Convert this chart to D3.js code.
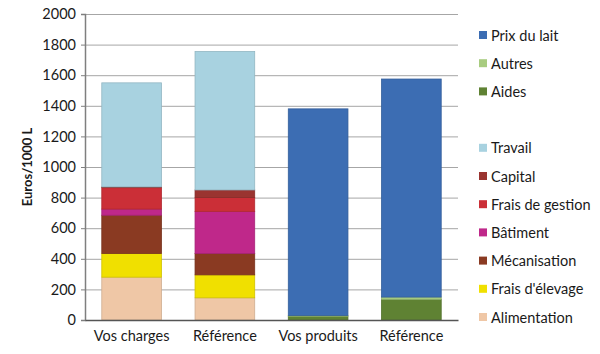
<!DOCTYPE html>
<html>
<head>
<meta charset="utf-8">
<script src="https://cdn.jsdelivr.net/npm/d3@7"></script>
<style>
  body { margin: 0; background: #fff; }
  text { font-family: Lato, "Open Sans", sans-serif; fill: #1a1a1a; }
</style>
</head>
<body>
<script>
// categories along the x axis
let categories = ["Vos charges", "Référence", "Vos produits", "Référence "];
let yTicks = [0, 200, 400, 600, 800, 1000, 1200, 1400, 1600, 1800, 2000];

// series values (Euros/1000 L), bottom to top of each stack
let alimentation   = [280, 145, 0, 0];
let fraisElevage   = [155, 150, 0, 0];
let mecanisation   = [250, 140, 0, 0];
let batiment       = [40, 275, 0, 0];
let fraisGestion   = [140, 90, 0, 0];
let capital        = [5, 50, 0, 0];
let travail        = [680, 905, 0, 0];
let aides          = [0, 0, 25, 135];
let autres         = [0, 0, 5, 15];
let prixLait       = [0, 0, 1350, 1425];

let seriesNames = ["Alimentation", "Frais d'élevage", "Mécanisation", "Bâtiment",
  "Frais de gestion", "Capital", "Travail", "Aides", "Autres", "Prix du lait"];
let seriesValues = [alimentation, fraisElevage, mecanisation, batiment,
  fraisGestion, capital, travail, aides, autres, prixLait];
let seriesColors = ["#efc7a6", "#f0e000", "#8a3a22", "#bf288a",
  "#cb2f37", "#9a3430", "#a8d2e0", "#5f8233", "#a8cc80", "#3c6db3"];
// legend order, null = empty slot
let legendOrder = ["Prix du lait", "Autres", "Aides", null, "Travail", "Capital",
  "Frais de gestion", "Bâtiment", "Mécanisation", "Frais d'élevage", "Alimentation"];

let margins = { left: 85, top: 14, right: 142, bottom: 34 };
let totalW = 600, totalH = 354;
let width = totalW - margins.left - margins.right;
let height = totalH - margins.top - margins.bottom;

let svg = d3.select("body").append("svg")
  .attr("width", totalW)
  .attr("height", totalH);

let container = svg.append("g")
  .attr("transform", `translate(${margins.left}, ${margins.top})`);

let xScale = d3.scaleBand()
  .domain(categories)
  .range([0, width])
  .paddingInner(0.36)
  .paddingOuter(0.18);
let yScale = d3.scaleLinear()
  .domain([0, 2000])
  .range([height, 0]);
let colorScale = d3.scaleOrdinal()
  .domain(seriesNames)
  .range(seriesColors);

// gridlines
container.append("g")
  .selectAll("line")
  .data(yTicks.slice(1))
  .join("line")
  .attr("x1", 0)
  .attr("x2", width)
  .attr("y1", d => yScale(d) + 0.5)
  .attr("y2", d => yScale(d) + 0.5)
  .attr("stroke", "#a6a6a6")
  .attr("stroke-width", 1);

// build rows for the stack generator
let data = categories.map((c, i) => {
  let row = { cat: c };
  seriesNames.forEach((s, k) => row[s] = seriesValues[k][i]);
  return row;
});
let stackedSeries = d3.stack().keys(seriesNames)(data);

let sel = container.selectAll("g.series")
  .data(stackedSeries, d => d.key)
  .join("g")
  .classed("series", true)
  .style("fill", d => colorScale(d.key))
  .style("stroke", d => d3.color(colorScale(d.key)).darker(0.4));

sel.selectAll("rect")
  .data(d => d.filter(p => p[1] - p[0] > 0))
  .join("rect")
  .attr("x", d => xScale(d.data.cat))
  .attr("width", xScale.bandwidth())
  .attr("y", d => yScale(d[1]))
  .attr("height", d => yScale(d[0]) - yScale(d[1]))
  .attr("stroke-width", 0.8);

// y axis
let yAxis = d3.axisLeft(yScale).tickValues(yTicks).tickFormat(d3.format("d"))
  .tickSize(4).tickPadding(5);
let yAxisG = container.append("g").call(yAxis);
yAxisG.select(".domain").attr("stroke", "#7f7f7f").attr("stroke-width", 1.5);
yAxisG.selectAll(".tick line").attr("stroke", "#7f7f7f");
yAxisG.selectAll(".tick text")
  .style("font-size", "14.5px")
  .style("font-family", "Lato, sans-serif")
  .attr("fill", "#1a1a1a");

// x axis
let xAxis = d3.axisBottom(xScale).tickSize(0).tickPadding(11);
let xAxisG = container.append("g")
  .attr("transform", `translate(0, ${height})`)
  .call(xAxis);
xAxisG.select(".domain").attr("stroke", "#555").attr("stroke-width", 1.5);
xAxisG.selectAll(".tick text")
  .text(d => d.trim())
  .style("font-size", "14.5px")
  .style("font-family", "Lato, sans-serif")
  .attr("fill", "#1a1a1a");

// y label
svg.append("text")
  .attr("transform", `translate(32, ${margins.top + height / 2}) rotate(-90)`)
  .attr("text-anchor", "middle")
  .style("font-size", "13px")
  .style("font-weight", "bold")
  .text("Euros/1000 L");

// legend
let legend = svg.append("g")
  .attr("transform", "translate(479, 35)")
  .selectAll("g")
  .data(legendOrder)
  .join("g")
  .attr("transform", (d, i) => `translate(0, ${i * 28.2})`)
  .style("display", d => d ? null : "none");
legend.append("rect")
  .attr("x", 0)
  .attr("y", -4)
  .attr("width", 8)
  .attr("height", 8)
  .attr("fill", d => d ? colorScale(d) : "none");
legend.append("text")
  .attr("x", 12)
  .attr("y", 0)
  .attr("dominant-baseline", "central")
  .style("font-size", "14.5px")
  .text(d => d || "");
</script>
</body>
</html>
